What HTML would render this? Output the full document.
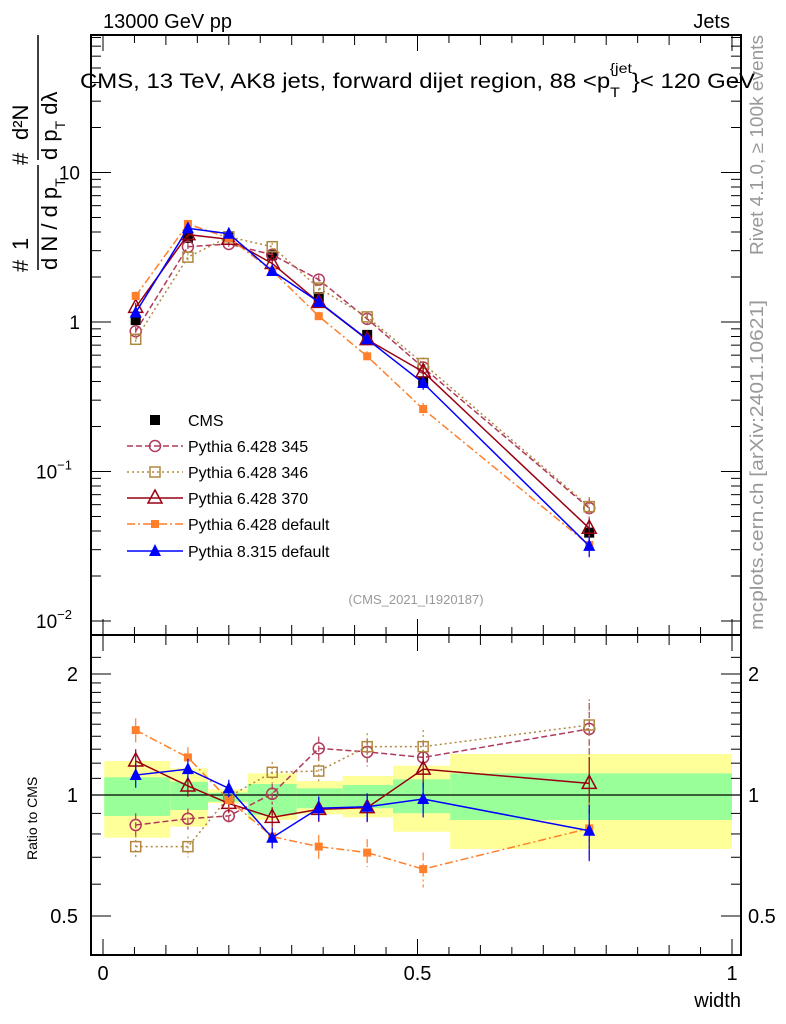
<!DOCTYPE html>
<html><head><meta charset="utf-8"><style>
body{margin:0;background:#fff;}
svg{display:block;font-family:"Liberation Sans",sans-serif;}
</style></head><body>
<svg id="c" width="786" height="1024" viewBox="0 0 786 1024" xmlns="http://www.w3.org/2000/svg">
<text x="103" y="28" font-size="20">13000 GeV pp</text>
<text x="730" y="28" font-size="20" text-anchor="end">Jets</text>
<text x="80" y="88" font-size="21" textLength="675" lengthAdjust="spacingAndGlyphs">CMS, 13 TeV, AK8 jets, forward dijet region, 88 &lt;p<tspan font-size="14" dy="9">T</tspan><tspan font-size="14" dy="-24" dx="-9">{jet</tspan><tspan dy="15">}&lt; 120 GeV</tspan></text>
<text x="416" y="604" font-size="13" fill="#999" text-anchor="middle">(CMS_2021_I1920187)</text>
<text transform="translate(763,255) rotate(-90)" font-size="18" fill="#999" textLength="220" lengthAdjust="spacingAndGlyphs">Rivet 4.1.0, ≥ 100k events</text>
<text transform="translate(763,630) rotate(-90)" font-size="18" fill="#999" textLength="330" lengthAdjust="spacingAndGlyphs">mcplots.cern.ch [arXiv:2401.10621]</text>
<g font-size="22">
<text transform="translate(28,272) rotate(-90)">#</text>
<text transform="translate(28,250) rotate(-90)">1</text>
<line x1="38" y1="270" x2="38" y2="165" stroke="#000" stroke-width="1.5"/>
<text transform="translate(57,270) rotate(-90)">d N / d p<tspan font-size="14" dy="8">T</tspan></text>
<text transform="translate(28,165) rotate(-90)">#</text>
<text transform="translate(28,140) rotate(-90)">d²N</text>
<line x1="38" y1="160" x2="38" y2="35" stroke="#000" stroke-width="1.5"/>
<text transform="translate(57,160) rotate(-90)">d p<tspan font-size="14" dy="8">T</tspan><tspan dy="-8"> d</tspan>λ</text>
</g>
<text transform="translate(37,860) rotate(-90)" font-size="14">Ratio to CMS</text>
<text x="741" y="1007" font-size="20" text-anchor="end">width</text>
</svg>
<script>
const xVals=[0.052,0.135,0.2,0.269,0.343,0.42,0.509,0.773];
const binEdges=[0.002,0.107,0.167,0.23,0.308,0.381,0.461,0.552,1.0];
const cmsVals=[1.03,3.65,3.75,2.8,1.47,0.82,0.40,0.039];
const cmsErrRel=[0.05,0.04,0.04,0.04,0.05,0.06,0.08,0.08];
const bandGreenHi=[1.107,1.079,1.013,1.065,1.039,1.059,1.094,1.132];
const bandGreenLo=[0.887,0.918,0.962,0.892,0.927,0.927,0.901,0.867];
const bandYellowHi=[1.215,1.165,1.033,1.132,1.083,1.115,1.183,1.265];
const bandYellowLo=[0.783,0.834,0.954,0.867,0.895,0.880,0.810,0.734];
const r345=[0.842,0.873,0.887,1.007,1.306,1.28,1.24,1.46];
const r346=[0.744,0.744,0.99,1.139,1.147,1.319,1.319,1.493];
const r370=[1.215,1.053,0.953,0.880,0.921,0.930,1.16,1.069];
const r6def=[1.45,1.24,0.972,0.788,0.744,0.719,0.654,0.826];
const r8def=[1.121,1.16,1.039,0.783,0.927,0.935,0.977,0.815];
const errRel=[0.07,0.06,0.05,0.06,0.07,0.08,0.1,0.16];
const yTicksMain=["10","1","10^-1","10^-2"];
const NS="http://www.w3.org/2000/svg";
const svg=document.getElementById('c');
const X=v=>103+629*v;
const YM=v=>322-149.5*Math.log10(v);
const YR=v=>795-402*Math.log10(v);
function el(t,a,p){const e=document.createElementNS(NS,t);for(const k in a)e.setAttribute(k,a[k]);(p||svg).appendChild(e);return e;}
const gb=el('g',{});


for(let i=0;i<8;i++){
 const x1=X(binEdges[i]),x2=X(binEdges[i+1]);
 const y=el('rect',{x:x1,y:YR(bandYellowHi[i]),width:x2-x1,height:YR(bandYellowLo[i])-YR(bandYellowHi[i]),fill:'#ffff99'},gb);
 
 
 const g=el('rect',{x:x1,y:YR(bandGreenHi[i]),width:x2-x1,height:YR(bandGreenLo[i])-YR(bandGreenHi[i]),fill:'#99ff99'},gb);
 
 
}
el('line',{x1:91,x2:741,y1:YR(1),y2:YR(1),stroke:'#000','stroke-width':1.2});
const fr=el('rect',{x:91,y:35,width:650,height:600,fill:'none',stroke:'#000','stroke-width':2});


const fr2=el('rect',{x:91,y:635,width:650,height:320,fill:'none',stroke:'#000','stroke-width':2});


for(let k=0;k<=20;k++){const v=k*0.05,x=X(v),L=(k%10==0)?16:(k%2==0?10:8);
 el('line',{x1:x,x2:x,y1:955,y2:955-L,stroke:'#000'});
 el('line',{x1:x,x2:x,y1:635,y2:635-L,stroke:'#000'});
 el('line',{x1:x,x2:x,y1:35,y2:35+L,stroke:'#000'});
 el('line',{x1:x,x2:x,y1:635,y2:635+L,stroke:'#000'});}
[["0",0],["0.5",0.5],["1",1]].forEach(([t,v])=>{const e=el('text',{x:X(v),y:980,'font-size':20,'text-anchor':'middle'});e.textContent=t;
 
 });
for(let d=-2;d<=1;d++){for(let m=1;m<10;m++){const v=m*Math.pow(10,d),y=YM(v);if(y<35||y>635)continue;const L=m==1?20:10;
 el('line',{x1:91,x2:91+L,y1:y,y2:y,stroke:'#000'});el('line',{x1:741,x2:741-L,y1:y,y2:y,stroke:'#000'});}}
[[10,"10",""],[1,"1",""],[0.1,"10","−1"],[0.01,"10","−2"]].forEach(([v,b,s])=>{const e=el('text',{x:s?72:80,y:YM(v)+7,'font-size':19,'text-anchor':'end'});e.textContent=b;
 
 
 if(s){const t=el('tspan',{'font-size':13,dy:-9});t.textContent=s;e.appendChild(t);}});
for(const v of [0.5,0.6,0.7,0.8,0.9,1,2]){const y=YR(v),L=(v==0.5||v==1||v==2)?20:10;
 el('line',{x1:91,x2:91+L,y1:y,y2:y,stroke:'#000'});el('line',{x1:741,x2:741-L,y1:y,y2:y,stroke:'#000'});}
for(const v of [1.1,1.2,1.3,1.4,1.5,1.6,1.7,1.8,1.9,2.2]){const y=YR(v);if(y<635)continue;
 el('line',{x1:91,x2:101,y1:y,y2:y,stroke:'#000'});el('line',{x1:741,x2:731,y1:y,y2:y,stroke:'#000'});}
[[0.5,"0.5"],[1,"1"],[2,"2"]].forEach(([v,t])=>{for(const [x,a] of [[78,'end'],[748,'start']]){const e=el('text',{x:x,y:YR(v)+7,'font-size':20,'text-anchor':a});e.textContent=t;
 
 }});
function marker(g,type,x,y,c){
 if(type=='sqf')el('rect',{x:x-5,y:y-5,width:10,height:10,fill:c},g);
 if(type=='sqs')el('rect',{x:x-4,y:y-4,width:8,height:8,fill:c},g);
 if(type=='sqo')el('rect',{x:x-5,y:y-5,width:10,height:10,fill:'none',stroke:c,'stroke-width':1.5},g);
 if(type=='circ')el('circle',{cx:x,cy:y,r:5.5,fill:'none',stroke:c,'stroke-width':1.5},g);
 if(type=='trio')el('path',{d:`M${x} ${y-8}L${x+7} ${y+5}L${x-7} ${y+5}Z`,fill:'none',stroke:c,'stroke-width':1.5},g);
 if(type=='trif')el('path',{d:`M${x} ${y-7}L${x+6} ${y+5}L${x-6} ${y+5}Z`,fill:c},g);}
const series=[
 {n:'pythia-6428-345',lab:'Pythia 6.428 345',r:r345,c:'#b03a5a',dash:'6,3',m:'circ'},
 {n:'pythia-6428-346',lab:'Pythia 6.428 346',r:r346,c:'#b08840',dash:'2,3',m:'sqo'},
 {n:'pythia-6428-370',lab:'Pythia 6.428 370',r:r370,c:'#990011',dash:'',m:'trio'},
 {n:'pythia-6428-default',lab:'Pythia 6.428 default',r:r6def,c:'#ff7f2a',dash:'8,3,2,3',m:'sqs'},
 {n:'pythia-8315-default',lab:'Pythia 8.315 default',r:r8def,c:'#0000ff',dash:'',m:'trif'}];
const cg=el('g',{});


xVals.forEach((xv,i)=>{const x=X(xv);el('line',{x1:x,x2:x,y1:YM(cmsVals[i]*(1+cmsErrRel[i])),y2:YM(cmsVals[i]*(1-cmsErrRel[i])),stroke:'#000'},cg);marker(cg,'sqf',x,YM(cmsVals[i]),'#000');});
series.forEach(s=>{
 const g=el('g',{});
 
 
 const pm=xVals.map((xv,i)=>[X(xv),YM(cmsVals[i]*s.r[i])]);
 const pr=xVals.map((xv,i)=>[X(xv),YR(s.r[i])]);
 for(const pts of [pm,pr])el('polyline',{points:pts.map(p=>p.join(',')).join(' '),fill:'none',stroke:s.c,'stroke-width':1.5,'stroke-dasharray':s.dash},g);
 xVals.forEach((xv,i)=>{const x=X(xv),v=cmsVals[i]*s.r[i],e=errRel[i];
  el('line',{x1:x,x2:x,y1:YM(v*(1+e)),y2:YM(v*(1-e)),stroke:s.c,'stroke-width':1.2,'stroke-dasharray':s.dash},g);
  el('line',{x1:x,x2:x,y1:YR(s.r[i]*(1+e)),y2:YR(s.r[i]*(1-e)),stroke:s.c,'stroke-width':1.2,'stroke-dasharray':s.dash},g);
  marker(g,s.m,x,YM(v),s.c);marker(g,s.m,x,YR(s.r[i]),s.c);});
});
const lg=el('g',{});


const ly=[420,446,472,498,524,551];
marker(lg,'sqf',155,ly[0],'#000');
const t0=el('text',{x:188,y:ly[0]+6,'font-size':16},lg);t0.textContent='CMS';
series.forEach((s,k)=>{const y=ly[k+1];
 el('line',{x1:127,x2:183,y1:y,y2:y,stroke:s.c,'stroke-width':1.5,'stroke-dasharray':s.dash},lg);
 marker(lg,s.m,155,y,s.c);
 const t=el('text',{x:188,y:y+6,'font-size':16},lg);t.textContent=s.lab;});
</script>
</body></html>
